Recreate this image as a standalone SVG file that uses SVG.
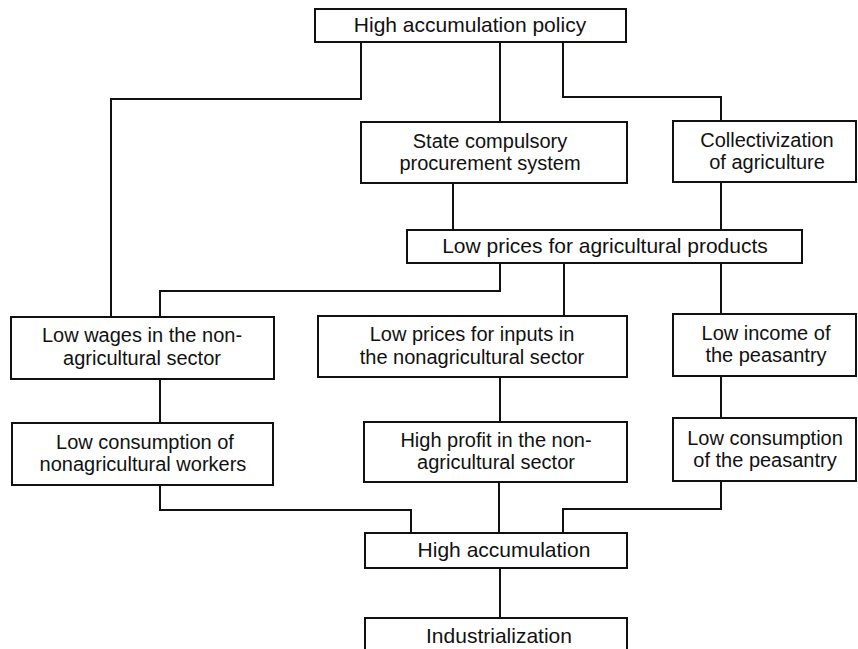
<svg xmlns="http://www.w3.org/2000/svg" width="858" height="649" viewBox="0 0 858 649">
<style>
  .box { fill: #ffffff; stroke: #111111; stroke-width: 2; }
  .conn { fill: none; stroke: #111111; stroke-width: 2; }
  text { font-family: "Liberation Sans", Arial, sans-serif; font-size: 21px; fill: #111111; text-anchor: middle; }
  .two { font-size: 20px; }
</style>
<rect x="0" y="0" width="858" height="649" fill="#ffffff"/>
<g id="connectors">
  <path class="conn" d="M361,42 V99 H111 V317"/>
  <path class="conn" d="M500,42 V122"/>
  <path class="conn" d="M563,42 V97 H721 V121"/>
  <path class="conn" d="M453,183 V230"/>
  <path class="conn" d="M721,182 V230"/>
  <path class="conn" d="M500,263 V291 H160 V317"/>
  <path class="conn" d="M564,263 V316"/>
  <path class="conn" d="M721,263 V314"/>
  <path class="conn" d="M160,379 V423"/>
  <path class="conn" d="M500,377 V422"/>
  <path class="conn" d="M721,376 V418"/>
  <path class="conn" d="M160,485 V510 H411 V533"/>
  <path class="conn" d="M499,482 V533"/>
  <path class="conn" d="M721,481 V509 H563 V533"/>
  <path class="conn" d="M500,568 V618"/>
</g>
<g id="policy">
  <rect class="box" x="315" y="9" width="311" height="33"/>
  <text x="470" y="32">High accumulation policy</text>
</g>
<g id="procurement">
  <rect class="box" x="361" y="122" width="266" height="61"/>
  <text class="two" x="490" y="147.5">State compulsory</text>
  <text class="two" x="490" y="170">procurement system</text>
</g>
<g id="collectivization">
  <rect class="box" x="673" y="121" width="183" height="61"/>
  <text class="two" x="767" y="146.5">Collectivization</text>
  <text class="two" x="767" y="169">of agriculture</text>
</g>
<g id="lowprices">
  <rect class="box" x="407" y="230" width="395" height="33"/>
  <text x="605" y="253">Low prices for agricultural products</text>
</g>
<g id="lowwages">
  <rect class="box" x="11" y="317" width="263" height="62"/>
  <text class="two" x="142" y="342">Low wages in the non-</text>
  <text class="two" x="142" y="364.5">agricultural sector</text>
</g>
<g id="inputs">
  <rect class="box" x="318" y="316" width="309" height="61"/>
  <text class="two" x="472" y="341">Low prices for inputs in</text>
  <text class="two" x="472" y="363.5">the nonagricultural sector</text>
</g>
<g id="income">
  <rect class="box" x="673" y="314" width="183" height="62"/>
  <text class="two" x="766" y="339.5">Low income of</text>
  <text class="two" x="766" y="362">the peasantry</text>
</g>
<g id="workers">
  <rect class="box" x="12" y="423" width="261" height="62"/>
  <text class="two" x="145" y="448.5">Low consumption of</text>
  <text class="two" x="143" y="471">nonagricultural workers</text>
</g>
<g id="profit">
  <rect class="box" x="364" y="422" width="263" height="60"/>
  <text class="two" x="496" y="446.5">High profit in the non-</text>
  <text class="two" x="496" y="469">agricultural sector</text>
</g>
<g id="peasantry">
  <rect class="box" x="673" y="418" width="183" height="63"/>
  <text class="two" x="765" y="444.5">Low consumption</text>
  <text class="two" x="765" y="467">of the peasantry</text>
</g>
<g id="highacc">
  <rect class="box" x="365" y="533" width="262" height="35"/>
  <text x="504" y="557">High accumulation</text>
</g>
<g id="industrialization">
  <rect class="box" x="365" y="618" width="262" height="50"/>
  <text x="499" y="643">Industrialization</text>
</g>
</svg>
